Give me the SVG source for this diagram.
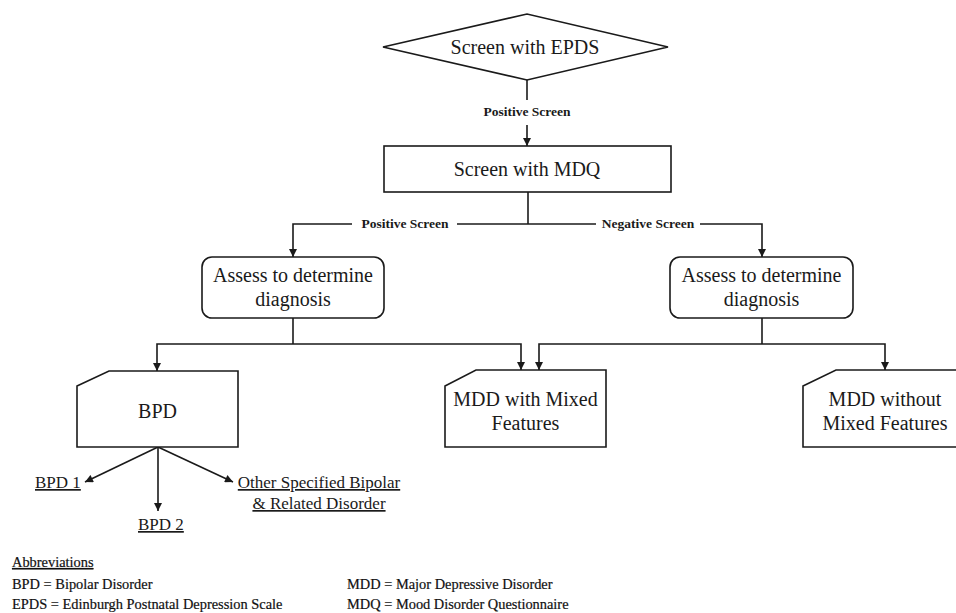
<svg xmlns="http://www.w3.org/2000/svg" width="956" height="613" viewBox="0 0 956 613">
<defs>
<marker id="ah" viewBox="0 0 10 10" refX="10" refY="5" markerWidth="9" markerHeight="8" markerUnits="userSpaceOnUse" orient="auto">
<path d="M0,0 L10,5 L0,10 z" fill="#1a1a1a"/>
</marker>
</defs>
<style>
.shape{fill:#fff;stroke:#1a1a1a;stroke-width:1.6}
.ln{fill:none;stroke:#1a1a1a;stroke-width:1.6}
.arr{fill:none;stroke:#1a1a1a;stroke-width:1.6;marker-end:url(#ah)}
.t{font-family:"Liberation Serif","Times New Roman",serif;font-size:20px;fill:#1a1a1a;text-anchor:middle}
.lbl{font-family:"Liberation Serif","Times New Roman",serif;font-size:13.5px;font-weight:bold;fill:#1a1a1a;text-anchor:middle}
.sub{font-family:"Liberation Serif","Times New Roman",serif;font-size:17px;fill:#1a1a1a;text-decoration:underline}
.ab{font-family:"Liberation Serif","Times New Roman",serif;font-size:14.4px;fill:#111;stroke:#111;stroke-width:0.2}
</style>
<rect width="956" height="613" fill="#fff"/>
<g id="connectors">
<line class="ln" x1="527" y1="80" x2="527" y2="100"/>
<line class="arr" x1="527" y1="125" x2="527" y2="146"/>
<line class="ln" x1="528" y1="192" x2="528" y2="224"/>
<polyline class="arr" points="352,224 293,224 293,257"/>
<line class="ln" x1="457" y1="224" x2="596" y2="224"/>
<polyline class="arr" points="700,224 762,224 762,257"/>
<line class="ln" x1="293" y1="318" x2="293" y2="344"/>
<polyline class="arr" points="293,344 157,344 157,371"/>
<polyline class="arr" points="293,344 521,344 521,370"/>
<line class="ln" x1="762" y1="318" x2="762" y2="344"/>
<polyline class="arr" points="762,344 539,344 539,370"/>
<polyline class="arr" points="762,344 885,344 885,370"/>
<line class="arr" x1="158" y1="447" x2="85" y2="482"/>
<line class="arr" x1="158" y1="447" x2="158" y2="511"/>
<line class="arr" x1="158" y1="447" x2="233" y2="482"/>
<text class="lbl" x="527" y="116">Positive Screen</text>
<text class="lbl" x="405" y="228">Positive Screen</text>
<text class="lbl" x="648" y="228">Negative Screen</text>
</g>
<g id="epds">
<polygon class="shape" points="383,47 527,14 668,47 527,80"/>
<text class="t" x="525" y="54">Screen with EPDS</text>
</g>
<g id="mdq">
<rect class="shape" x="384" y="146" width="287" height="46"/>
<text class="t" x="527" y="176">Screen with MDQ</text>
</g>
<g id="assess-left">
<rect class="shape" x="202" y="257" width="182" height="61" rx="10"/>
<text class="t" x="293" y="282">Assess to determine</text>
<text class="t" x="293" y="306">diagnosis</text>
</g>
<g id="assess-right">
<rect class="shape" x="670" y="257" width="183" height="61" rx="10"/>
<text class="t" x="761.5" y="282">Assess to determine</text>
<text class="t" x="761.5" y="306">diagnosis</text>
</g>
<g id="bpd">
<path class="shape" d="M77,386 L109,371 L238,371 L238,447 L77,447 Z"/>
<text class="t" x="157.5" y="418">BPD</text>
</g>
<g id="mdd-mixed">
<path class="shape" d="M445,386 L476,370 L606,370 L606,447 L445,447 Z"/>
<text class="t" x="525.5" y="406">MDD with Mixed</text>
<text class="t" x="525.5" y="430">Features</text>
</g>
<g id="mdd-nomixed">
<path class="shape" d="M803,386 L836,370 L966,370 L966,447 L803,447 Z"/>
<text class="t" x="885" y="406">MDD without</text>
<text class="t" x="885" y="430">Mixed Features</text>
</g>
<g id="bpd1"><text class="sub" x="35" y="488">BPD 1</text></g>
<g id="bpd2"><text class="sub" x="138" y="530">BPD 2</text></g>
<g id="other">
<text class="sub" x="319" y="488" text-anchor="middle">Other Specified Bipolar</text>
<text class="sub" x="319" y="509" text-anchor="middle">&amp; Related Disorder</text>
</g>
<g id="abbreviations">
<text class="ab" x="12" y="567" text-decoration="underline">Abbreviations</text>
<text class="ab" x="12" y="589">BPD = Bipolar Disorder</text>
<text class="ab" x="12" y="609">EPDS = Edinburgh Postnatal Depression Scale</text>
<text class="ab" x="347" y="589">MDD = Major Depressive Disorder</text>
<text class="ab" x="347" y="609">MDQ = Mood Disorder Questionnaire</text>
</g>
</svg>
